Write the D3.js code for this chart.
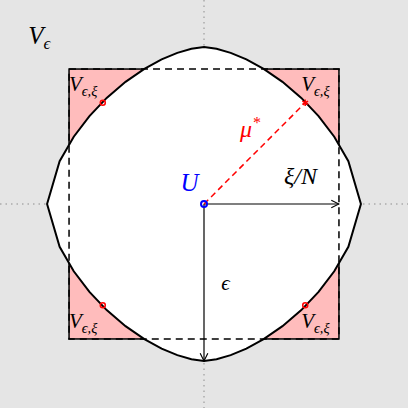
<!DOCTYPE html>
<html lang="en">
<head>
<meta charset="UTF-8">
<script src="https://d3js.org/d3.v7.min.js"></script>
<style>
  body { margin: 0; }
  text { font-family: 'Liberation Serif', serif; font-style: italic; }
</style>
</head>
<body>
<svg width="408" height="408"></svg>
<script>
    // unit ball of a p-norm, drawn as a coarse polyline
    const pNorm = 1.6;
    const curveSteps = [0, 0.08, 0.17, 0.27, 0.38, 0.5, 0.62, 0.73, 0.83, 0.92, 1];
    const squareHalf = 0.86;
    const dotPoints = [[-0.645, 0.645], [0.645, -0.645], [-0.645, -0.645]];
    const starPoint = [0.645, 0.645];
    const labels = [
        {t: "V", sub: "ϵ", x: -1.12, y: 1.02, size: 25},
        {t: "V", sub: "ϵ,ξ", x: -0.86, y: 0.72, size: 21},
        {t: "V", sub: "ϵ,ξ", x: 0.62, y: 0.72, size: 21},
        {t: "V", sub: "ϵ,ξ", x: -0.86, y: -0.79, size: 21},
        {t: "V", sub: "ϵ,ξ", x: 0.62, y: -0.79, size: 21}
    ];

    const svg = d3.select("svg");
    const x = d3.scaleLinear().domain([-1.3, 1.3]).range([0, 408]);
    const y = d3.scaleLinear().domain([-1.3, 1.3]).range([408, 0]);

    svg.append("rect").attr("width", 408).attr("height", 408).attr("fill", "#e5e5e5");

    const defs = svg.append("defs");
    defs.append("marker").attr("id", "arr").attr("viewBox", "0 0 10 10").attr("refX", 9).attr("refY", 5)
        .attr("markerWidth", 8).attr("markerHeight", 8).attr("orient", "auto-start-reverse")
        .append("path").attr("d", "M1,1 L9,5 L1,9").attr("fill", "none").attr("stroke", "black").attr("stroke-width", 1.2);

    // dotted axes
    svg.append("line").attr("x1", 0).attr("x2", 408).attr("y1", y(0)).attr("y2", y(0))
        .attr("stroke", "#aaa").attr("stroke-dasharray", "1.5,4").attr("stroke-width", 1.5);
    svg.append("line").attr("y1", 0).attr("y2", 408).attr("x1", x(0)).attr("x2", x(0))
        .attr("stroke", "#aaa").attr("stroke-dasharray", "1.5,4").attr("stroke-width", 1.5);

    // pink square with solid edge
    const sq = [x(-squareHalf), y(squareHalf), x(squareHalf) - x(-squareHalf)];
    svg.append("rect").attr("x", sq[0]).attr("y", sq[1]).attr("width", sq[2]).attr("height", sq[2])
        .attr("fill", "#ffbcbc").attr("stroke", "black").attr("stroke-width", 1.5);

    // norm ball
    const pts = [];
    [[1, 1], [1, -1], [-1, -1], [-1, 1]].forEach(([sx, sy], q) => {
        const steps = q % 2 ? curveSteps.slice().reverse() : curveSteps;
        steps.forEach(s => {
            const u = s, v = Math.pow(1 - Math.pow(u, pNorm), 1 / pNorm);
            pts.push([sx * u, sy * v]);
        });
    });
    svg.append("path").attr("d", d3.line().x(d => x(d[0])).y(d => y(d[1]))(pts) + "Z")
        .attr("fill", "white").attr("stroke", "black").attr("stroke-width", 2);

    svg.append("rect").attr("x", sq[0]).attr("y", sq[1]).attr("width", sq[2]).attr("height", sq[2])
        .attr("fill", "none").attr("stroke", "black").attr("stroke-width", 1.5).attr("stroke-dasharray", "7,5");

    // arrows
    svg.append("line").attr("x1", x(0)).attr("y1", y(0)).attr("x2", x(squareHalf)).attr("y2", y(0))
        .attr("stroke", "black").attr("stroke-width", 1.2).attr("marker-end", "url(#arr)");
    svg.append("line").attr("x1", x(0)).attr("y1", y(0)).attr("x2", x(0)).attr("y2", y(-1))
        .attr("stroke", "black").attr("stroke-width", 1.2).attr("marker-end", "url(#arr)");
    svg.append("line").attr("x1", x(0)).attr("y1", y(0)).attr("x2", x(starPoint[0])).attr("y2", y(starPoint[1]))
        .attr("stroke", "red").attr("stroke-width", 1.5).attr("stroke-dasharray", "6,4");

    svg.selectAll("circle.dot").data(dotPoints).enter().append("circle")
        .attr("cx", d => x(d[0])).attr("cy", d => y(d[1])).attr("r", 2.5)
        .attr("fill", "none").attr("stroke", "red").attr("stroke-width", 1.5);
    svg.append("path").attr("transform", `translate(${x(starPoint[0])},${y(starPoint[1])})`)
        .attr("d", d3.symbol(d3.symbolAsterisk, 30)()).attr("stroke", "red").attr("stroke-width", 1.5);
    svg.append("circle").attr("cx", x(0)).attr("cy", y(0)).attr("r", 3)
        .attr("fill", "none").attr("stroke", "blue").attr("stroke-width", 2);

    labels.forEach(l => {
        const t = svg.append("text").attr("x", x(l.x)).attr("y", y(l.y)).attr("font-size", l.size);
        t.append("tspan").text(l.t);
        t.append("tspan").attr("dy", l.size * 0.22).attr("font-size", l.size * 0.68).text(l.sub);
    });
    const txt = (s, px, py, c, size) => svg.append("text").attr("x", x(px)).attr("y", y(py))
        .attr("fill", c).attr("font-size", size).text(s);
    txt("U", -0.15, 0.08, "blue", 25);
    txt("ξ/N", 0.51, 0.13, "black", 24);
    txt("ϵ", 0.11, -0.55, "black", 21);
    const mu = txt("μ", 0.23, 0.43, "red", 24);
    mu.append("tspan").attr("dy", -9).attr("font-size", 16).text("*");
</script>
</body>
</html>
